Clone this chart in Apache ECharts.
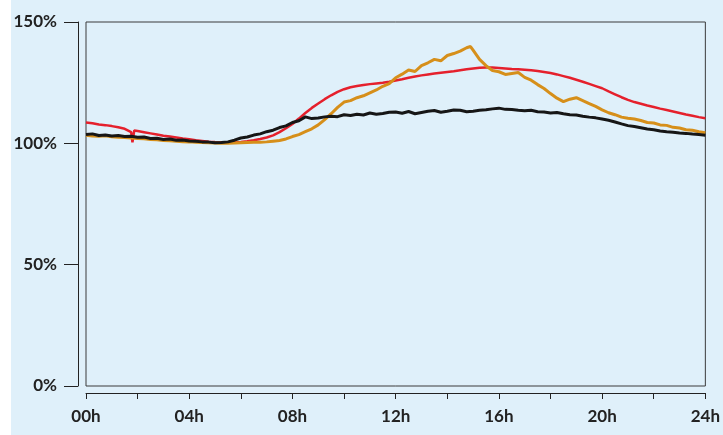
<!DOCTYPE html>
<html>
<head>
<meta charset="utf-8">
<script src="https://cdn.jsdelivr.net/npm/echarts@6/dist/echarts.min.js"></script>
<style>
  html, body { margin: 0; padding: 0; background: #fff; }
  #chart { width: 723px; height: 435px; }
</style>
</head>
<body>
<div id="chart"></div>
<script>
// quarter-hour grid, 00h .. 24h
var hours = [];
for (var i = 0; i <= 96; i++) hours.push(i / 4);

var redValues = [
  108.6, 108.3, 107.8, 107.5, 107.1, 106.6, 106.0, 104.6,
  105.1, 104.6, 104.1, 103.6, 103.1, 102.8, 102.4, 102.0,
  101.7, 101.3, 101.0, 100.7, 100.5, 100.4, 100.3, 100.4,
  100.6, 100.9, 101.3, 101.8, 102.4, 103.3, 104.6, 106.2,
  108.0, 110.2, 112.5, 114.6, 116.4, 118.2, 119.8, 121.2,
  122.3, 123.1, 123.6, 124.0, 124.4, 124.7, 125.0, 125.4,
  125.9, 126.4, 127.0, 127.5, 128.0, 128.4, 128.8, 129.1,
  129.4, 129.7, 130.1, 130.5, 130.8, 131.1, 131.3, 131.2,
  131.0, 130.8, 130.6, 130.5, 130.3, 130.1, 129.8, 129.4,
  129.0, 128.4, 127.7, 127.0, 126.2, 125.4, 124.5, 123.6,
  122.7, 121.4, 120.2, 119.0, 117.9, 117.0, 116.3, 115.6,
  115.0, 114.3, 113.7, 113.1, 112.5, 111.9, 111.4, 110.8,
  110.3
];
// the short drop just before 02h
var redDip = [[1.8, 100.4], [1.84, 101.2], [1.87, 105.3]];

var orangeValues = [
  103.3, 103.0, 102.9, 103.1, 102.7, 102.5, 102.4, 102.2,
  102.0, 101.9, 101.6, 101.5, 101.2, 101.1, 100.9, 100.7,
  100.6, 100.4, 100.3, 100.2, 100.1, 100.0, 100.0, 100.1,
  100.2, 100.3, 100.4, 100.4, 100.6, 100.9, 101.2, 101.8,
  102.8, 103.6, 104.8, 106.0, 107.6, 109.8, 112.2, 114.8,
  117.0, 117.6, 118.8, 119.6, 120.8, 122.0, 123.5, 124.6,
  127.0, 128.5, 130.2, 129.6, 132.0, 133.2, 134.6, 134.0,
  136.2, 137.0, 138.0, 139.4, 138.4, 134.6, 132.0, 130.0,
  129.5, 128.4, 128.8, 129.2, 127.2, 126.0, 124.2, 122.6,
  120.5, 118.6, 117.2, 118.2, 118.8, 117.6, 116.4, 115.2,
  113.8, 112.6, 111.8, 110.8, 110.3, 110.0, 109.4, 108.6,
  108.4, 107.6, 107.4, 106.6, 106.3, 105.6, 105.4, 104.8,
  104.4
];
var orangePeak = [[14.9, 139.9]];

var blackValues = [
  103.6, 103.9, 103.2, 103.4, 103.0, 103.2, 102.8, 102.9,
  102.5, 102.6, 102.0, 102.1, 101.6, 101.8, 101.3, 101.4,
  101.0, 100.9, 100.6, 100.5, 100.2, 100.3, 100.6, 101.3,
  102.2, 102.6, 103.4, 103.9, 104.8, 105.4, 106.5, 107.2,
  108.6, 109.3, 110.9, 110.2, 110.4, 110.9, 111.2, 111.0,
  111.8, 111.5, 112.0, 111.7, 112.5, 112.0, 112.3, 112.8,
  112.9, 112.4, 113.1, 112.2, 112.7, 113.2, 113.5, 112.8,
  113.2, 113.7, 113.6, 113.0, 113.2, 113.6, 113.8, 114.2,
  114.5, 114.0, 113.9, 113.6, 113.4, 113.6, 113.0, 112.9,
  112.5, 112.7, 112.2, 111.8, 111.7, 111.2, 110.8, 110.5,
  110.0, 109.5, 108.8, 108.0, 107.3, 106.9, 106.4, 105.9,
  105.6, 105.1, 104.8, 104.6, 104.3, 104.1, 103.8, 103.6,
  103.3
];

var yTicks = [0, 50, 100, 150];

function pairs(values, extra) {
  var out = hours.map(function (h, i) { return [h, values[i]]; });
  if (extra) out = out.concat(extra);
  return out.sort(function (a, b) { return a[0] - b[0]; });
}

var chart = echarts.init(document.getElementById('chart'));
var labelFont = { fontFamily: 'Lato', fontWeight: 'bold', fontSize: 17, color: '#222' };

var option = {
  backgroundColor: '#dff0fa',
  animation: false,
  graphic: [{
    type: 'rect', left: 0, top: 0, silent: true,
    shape: { width: 11, height: 435 },
    style: { fill: '#ffffff' }
  }],
  grid: {
    left: 86, right: 9, top: 22, bottom: 49,
    show: true, borderColor: '#3a3a3a', borderWidth: 1
  },
  xAxis: {
    type: 'value', min: 0, max: 24, interval: 2, offset: 7,
    axisLine: { show: true, onZero: false, lineStyle: { color: '#222', width: 1 } },
    axisTick: { show: true, length: 6, lineStyle: { color: '#222' } },
    splitLine: { show: false },
    axisLabel: Object.assign({
      margin: 15,
      formatter: function (v) {
        if (v % 4 !== 0) return '';
        return (v < 10 ? '0' + v : v) + 'h';
      }
    }, labelFont)
  },
  yAxis: {
    type: 'value', min: yTicks[0], max: yTicks[yTicks.length - 1], interval: 50, offset: 8,
    axisLine: { show: true, onZero: false, lineStyle: { color: '#222', width: 1 } },
    axisTick: { show: true, length: 14, lineStyle: { color: '#222' } },
    splitLine: { show: false },
    axisLabel: Object.assign({ margin: 21, formatter: '{value}%' }, labelFont)
  },
  series: [
    {
      name: 'red', type: 'line', showSymbol: false,
      data: pairs(redValues, redDip),
      lineStyle: { color: '#e5202c', width: 2.5 }
    },
    {
      name: 'orange', type: 'line', showSymbol: false,
      data: pairs(orangeValues, orangePeak),
      lineStyle: { color: '#d68f1a', width: 3 }
    },
    {
      name: 'black', type: 'line', showSymbol: false,
      data: pairs(blackValues),
      lineStyle: { color: '#161616', width: 3 }
    }
  ]
};

chart.setOption(option);
</script>
</body>
</html>
